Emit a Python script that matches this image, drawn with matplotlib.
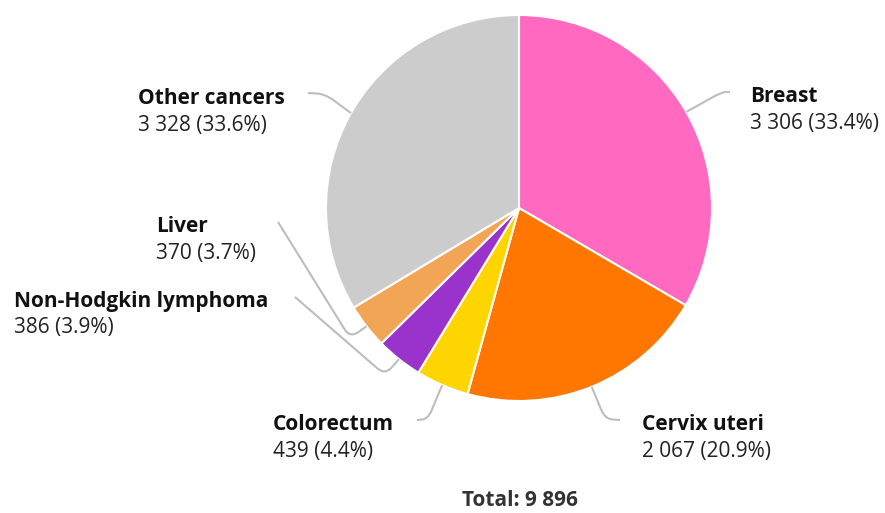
import numpy as np
import matplotlib.pyplot as plt
from matplotlib.path import Path
from matplotlib.patches import PathPatch

plt.rcParams['font.family'] = ['Open Sans', 'DejaVu Sans']

labels = ['Breast', 'Cervix uteri', 'Colorectum', 'Non-Hodgkin lymphoma', 'Liver', 'Other cancers']
values = [3306, 2067, 439, 386, 370, 3328]
colors = ['#FF69C0', '#FF7700', '#FFD500', '#9933CC', '#F2A555', '#CCCCCC']

W, H = 885, 513
CX, CY, R = 519, 208, 193   # pie centre / radius in image pixels (y down)

# label anchor (x, y of bold line, ha) and leader elbow / end points, image px
label_pos = [(750, 97, 'left'), (642, 425, 'left'), (273, 425, 'left'),
             (14, 301, 'left'), (156, 227, 'left'), (138, 99, 'left')]
leaders = [[(722, 92), (730, 92)],
           [(605, 419), (620, 420)],
           [(428, 419), (417, 420)],
           [(385, 375), (295, 297)],
           [(350, 338), (278, 222)],
           [(325, 94), (308, 93)]]


def fmt(n):
    return f'{n:,}'.replace(',', ' ')


def iy(y):
    return H - y


fig = plt.figure(figsize=(W / 100, H / 100), dpi=100)
ax = fig.add_axes([0, 0, 1, 1])

wedges, _ = ax.pie(values, colors=colors, startangle=90, counterclock=False,
                   center=(CX, iy(CY)), radius=R, frame=True,
                   wedgeprops=dict(edgecolor='white', linewidth=1.5))
ax.set_xlim(0, W)
ax.set_ylim(0, H)
ax.set_aspect('equal')
ax.axis('off')

total = sum(values)
for w, lab, v, (lx, ly, ha), pts in zip(wedges, labels, values, label_pos, leaders):
    mid = np.deg2rad((w.theta1 + w.theta2) / 2)
    sx = CX + R * np.cos(mid)
    sy = iy(CY) + R * np.sin(mid)
    (ex, ey), (tx, ty) = pts
    ey, ty = iy(ey), iy(ty)
    # rounded elbow: approach corner, quadratic curve, leave corner
    a = np.array([sx, sy]); c = np.array([ex, ey]); b = np.array([tx, ty])
    r = 10
    p1 = c + (a - c) / np.linalg.norm(a - c) * min(r, np.linalg.norm(a - c) / 2)
    p2 = c + (b - c) / np.linalg.norm(b - c) * min(r, np.linalg.norm(b - c) / 2)
    path = Path([a, p1, c, p2, b],
                [Path.MOVETO, Path.LINETO, Path.CURVE3, Path.CURVE3, Path.LINETO])
    ax.add_patch(PathPatch(path, fill=False, edgecolor='#BDBDBD', lw=1.5))
    ax.text(lx, iy(ly), lab, ha=ha, va='center', fontsize=15,
            fontweight='bold', color='#111111')
    ax.text(lx, iy(ly + 27), f'{fmt(v)} ({v / total * 100:.1f}%)', ha=ha,
            va='center', fontsize=15, color='#222222')

ax.text(520, iy(501), f'Total: {fmt(total)}', ha='center', va='center',
        fontsize=15, fontweight='bold', color='#333333')

fig.savefig('out.png', dpi=100)
